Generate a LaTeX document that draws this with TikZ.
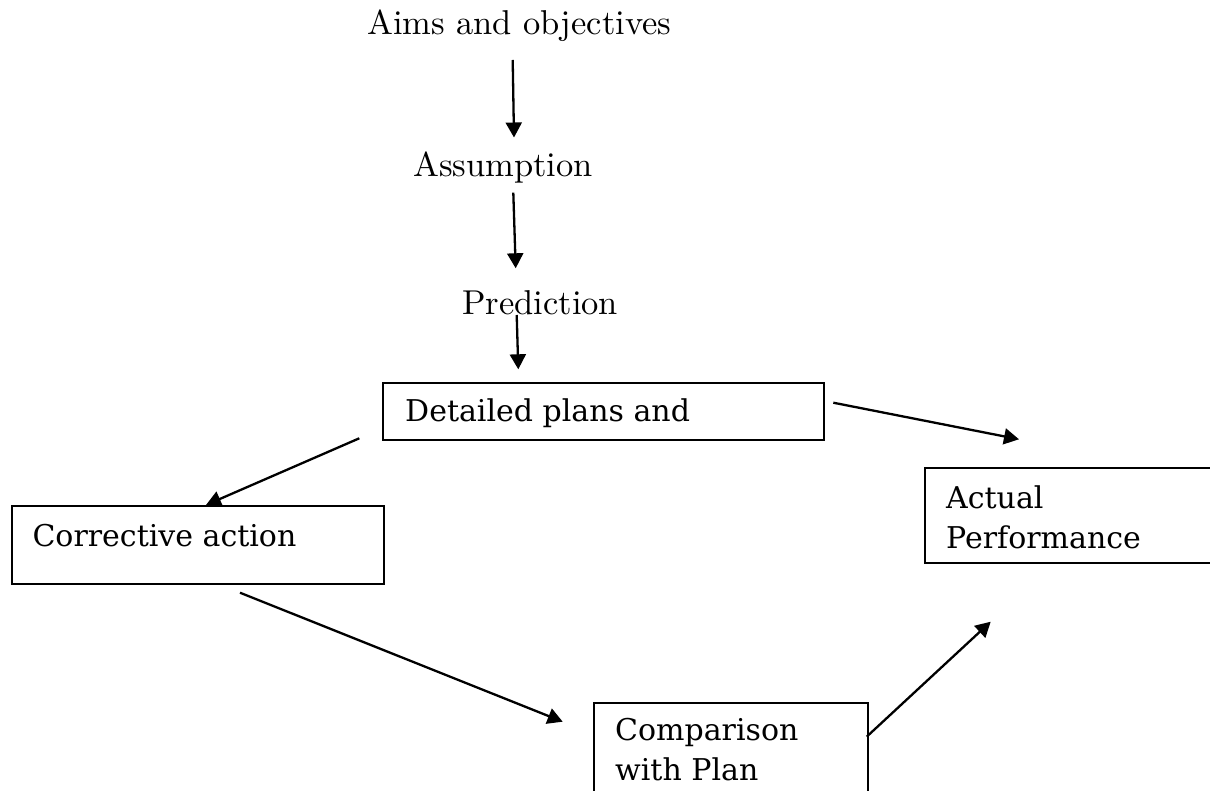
\documentclass[tikz,border=0pt]{standalone}
\usepackage{fontspec}
\newfontfamily\boxfont{DejaVu Serif}
\newfontfamily\topfont{lmroman10-regular.otf}
\usetikzlibrary{arrows.meta}
\tikzset{
  toptext/.style={anchor=base west, inner sep=0pt, font=\topfont\fontsize{34.5}{40}\selectfont},
  boxtext/.style={anchor=base west, inner sep=0pt, align=left, font=\boxfont\fontsize{30}{40}\selectfont},
  frame/.style={draw=black, line width=2pt, anchor=north west, inner sep=0pt, rectangle},
  conn/.style={line width=2.3pt, -{Triangle[length=15pt,width=16pt]}}
}
\begin{document}
\begin{tikzpicture}[x=1pt,y=-1pt]
\useasboundingbox (0,0) rectangle (1210,791);
\clip (0,0) rectangle (1210,791);
% top texts
\node[toptext] (aims) at (367,35) {Aims and objectives};
\node[toptext] (assume) at (413,177) {Assumption};
\node[toptext] (predict) at (462,315) {Prediction};
% boxes
\node[frame, minimum width=441pt, minimum height=57.5pt] (detailedbox) at (382.3,381.7) {};
\node[frame, minimum width=372.6pt, minimum height=78.3pt] (correctivebox) at (10.7,505) {};
\node[frame, minimum width=300pt, minimum height=94.4pt] (actualbox) at (924.3,467.3) {};
\node[frame, minimum width=274pt, minimum height=120pt] (comparisonbox) at (592.7,701.7) {};
% box texts (base anchor = last line)
\node[boxtext] (detailed) at (405,421.7) {Detailed plans and};
\node[boxtext] (corrective) at (32.3,546) {Corrective action};
\node[boxtext] (actual) at (946,548) {Actual\\Performance};
\node[boxtext] (comparison) at (615,780) {Comparison\\with Plan};
% connector end points
\coordinate (a1s) at (512.7,60);   \coordinate (a1e) at (514,137.5);
\coordinate (a2s) at (513.3,192.7); \coordinate (a2e) at (515.7,268.3);
\coordinate (a3s) at (516.7,315);  \coordinate (a3e) at (518.3,369.3);
\coordinate (a4s) at (833.3,402.7); \coordinate (a4e) at (1019,439.3);
\coordinate (a5s) at (359.3,438.3); \coordinate (a5e) at (206,505);
\coordinate (a6s) at (240,592.7);  \coordinate (a6e) at (562.7,721.7);
\coordinate (a7s) at (866.7,736.7); \coordinate (a7e) at (990.7,621.7);
% connectors
\draw[conn] (a1s) -- (a1e);
\draw[conn] (a2s) -- (a2e);
\draw[conn] (a3s) -- (a3e);
\draw[conn] (a4s) -- (a4e);
\draw[conn] (a5s) -- (a5e);
\draw[conn] (a6s) -- (a6e);
\draw[conn] (a7s) -- (a7e);
\end{tikzpicture}
\end{document}
